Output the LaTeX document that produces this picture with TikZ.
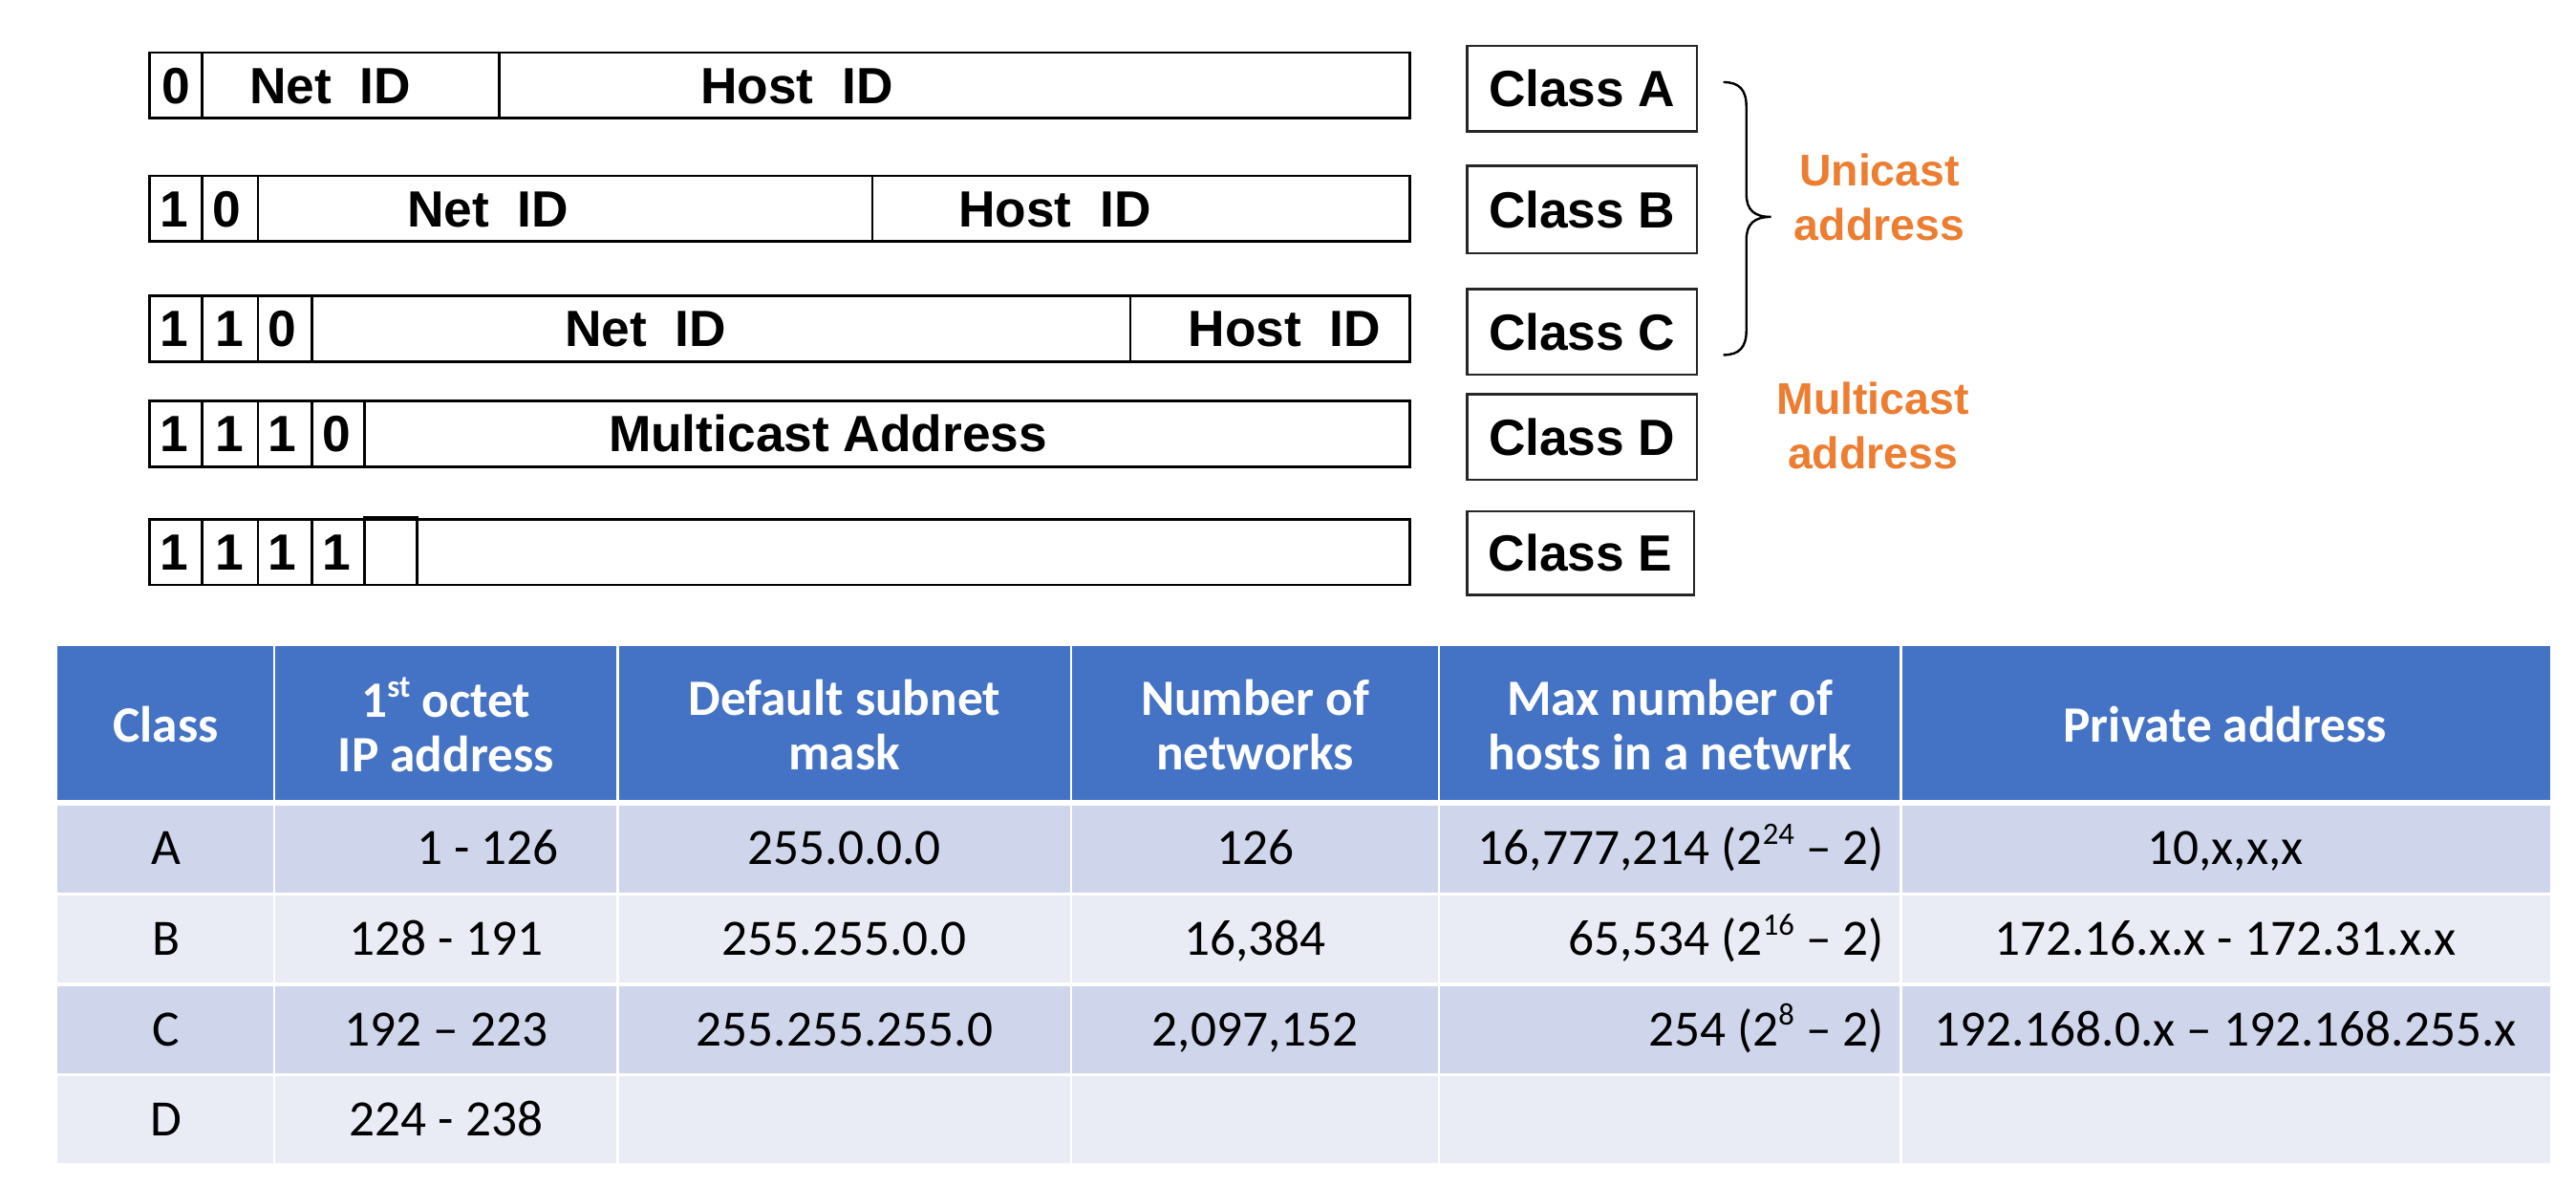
\documentclass[tikz,border=0pt]{standalone}
\usepackage{fontspec}
\newfontfamily\arial{Liberation Sans}
\newfontfamily\calibri{Carlito}
\definecolor{hdrblue}{HTML}{4472C4}
\definecolor{rowdark}{HTML}{CFD5EA}
\definecolor{rowlight}{HTML}{E9EBF5}
\definecolor{orng}{HTML}{ED7D31}
\newcommand\sups[1]{\raisebox{0.4em}{\fontsize{19}{19}\selectfont #1}}
\begin{document}
\begin{tikzpicture}[x=1pt,y=-1pt,
  barline/.style={draw=black, line width=1.6pt},
  barbox/.style={draw=black, line width=1.6pt, inner sep=0pt, minimum width=767pt, minimum height=40pt},
  clsbox/.style={draw=black!85, line width=1.4pt, inner sep=0pt, minimum width=140pt, minimum height=52pt,
                 font=\arial\bfseries\fontsize{31}{37}\selectfont},
  bartxt/.style={font=\arial\bfseries\fontsize{31}{37}\selectfont, inner sep=0pt, text height=22pt, text depth=0pt},
  orangetxt/.style={font=\arial\bfseries\fontsize{27}{33}\selectfont, text=orng, align=center, inner sep=0pt},
  hdrtxt/.style={font=\calibri\bfseries\fontsize{31}{33}\selectfont, text=white, align=center, inner sep=0pt},
  celltxt/.style={font=\calibri\fontsize{31}{33}\selectfont, text=black, inner sep=0pt, text height=19.6pt, text depth=0pt},
  brace/.style={draw=black, line width=1.4pt}
]
\fill[white] (0,0) rectangle (1568,722.35);
\useasboundingbox (0,0) rectangle (1568,722.35);

% ---------- Class A ----------
\node[barbox] (barA) at (474.5,52) {};
\draw[barline] (123,32) -- (123,72);
\draw[barline] (304,32) -- (304,72);
\node[bartxt] (a0) at (107,52) {0};
\node[bartxt] (anet) at (201,52) {Net~~ID};
\node[bartxt] (ahost) at (485,52) {Host~~ID};
\node[clsbox] (clsA) at (963,54) {Class A};

% ---------- Class B ----------
\node[barbox] (barB) at (474.5,127) {};
\draw[barline] (123,107) -- (123,147);
\draw[barline] (157,107) -- (157,147);
\draw[barline] (531,107) -- (531,147);
\node[bartxt] (b1) at (106,127) {1};
\node[bartxt] (b2) at (138,127) {0};
\node[bartxt] (bnet) at (297,127) {Net~~ID};
\node[bartxt] (bhost) at (642,127) {Host~~ID};
\node[clsbox, minimum height=53pt] (clsB) at (963,127.5) {Class B};

% ---------- Class C ----------
\node[barbox] (barC) at (474.5,200) {};
\draw[barline] (123,180) -- (123,220);
\draw[barline] (157,180) -- (157,220);
\draw[barline] (190,180) -- (190,220);
\draw[barline] (688,180) -- (688,220);
\node[bartxt] (c1) at (106,200) {1};
\node[bartxt] (c2) at (140,200) {1};
\node[bartxt] (c3) at (172,200) {0};
\node[bartxt] (cnet) at (393,200) {Net~~ID};
\node[bartxt] (chost) at (782,200) {Host~~ID};
\node[clsbox] (clsC) at (963,202) {Class C};

% ---------- Class D ----------
\node[barbox] (barD) at (474.5,264) {};
\draw[barline] (123,244) -- (123,284);
\draw[barline] (157,244) -- (157,284);
\draw[barline] (190,244) -- (190,284);
\draw[barline] (222,244) -- (222,284);
\node[bartxt] (d1) at (106,264) {1};
\node[bartxt] (d2) at (140,264) {1};
\node[bartxt] (d3) at (172,264) {1};
\node[bartxt] (d4) at (205,264) {0};
\node[bartxt] (dmc) at (504,264) {Multicast Address};
\node[clsbox] (clsD) at (963,266) {Class D};

% ---------- Class E ----------
\node[barbox] (barE) at (474.5,336) {};
\draw[barline] (123,316) -- (123,356);
\draw[barline] (157,316) -- (157,356);
\draw[barline] (190,316) -- (190,356);
\node[draw=black, line width=1.6pt, inner sep=0pt, minimum width=32pt, minimum height=41pt] (e5) at (238,335.5) {};
\node[bartxt] (e1) at (106,336) {1};
\node[bartxt] (e2) at (140,336) {1};
\node[bartxt] (e3) at (172,336) {1};
\node[bartxt] (e4) at (205,336) {1};
\node[clsbox, minimum width=138pt, minimum height=51pt] (clsE) at (962,336.5) {Class E};

% ---------- brace and labels ----------
\draw[brace] (1049,50) .. controls (1059,50) and (1063,55) .. (1063,65)
  -- (1063,118) .. controls (1063,128) and (1068,132) .. (1078,132)
  .. controls (1068,132) and (1063,136) .. (1063,146)
  -- (1063,201) .. controls (1063,211) and (1059,216) .. (1049,216);
\node[orangetxt] (uni) at (1144,120) {Unicast\\address};
\node[orangetxt] (multi) at (1140,259) {Multicast\\address};

% ---------- table ----------
\fill[hdrblue] (35,393) rectangle (1552,487);
\fill[rowdark]  (35,490) rectangle (1552,543);
\fill[rowlight] (35,545) rectangle (1552,598);
\fill[rowdark]  (35,600) rectangle (1552,653);
\fill[rowlight] (35,655) rectangle (1552,708);
\foreach \x in {167,376,652,876,1157} \draw[white, line width=1.5pt] (\x,393) -- (\x,708);

\node[hdrtxt] (hClass) at (101,441) {Class};
\node[hdrtxt] (hOct) at (271.5,441) {1\sups{st} octet\\IP address};
\node[hdrtxt] (hMask) at (514,441) {Default subnet\\mask};
\node[hdrtxt] (hNets) at (764,441) {Number of\\networks};
\node[hdrtxt] (hHosts) at (1016.5,441) {Max number of\\hosts in a netwrk};
\node[hdrtxt] (hPriv) at (1354.5,441) {Private address};

% row A
\node[celltxt] (rA1) at (101,516.5) {A};
\node[celltxt] (rA2) at (297,516.5) {1 - 126};
\node[celltxt] (rA3) at (514,516.5) {255.0.0.0};
\node[celltxt] (rA4) at (764,516.5) {126};
\node[celltxt, anchor=east] (rA5) at (1147,516.5) {16,777,214 (2\sups{24} – 2)};
\node[celltxt] (rA6) at (1354.5,516.5) {10,x,x,x};
% row B
\node[celltxt] (rB1) at (101,571.5) {B};
\node[celltxt] (rB2) at (271.5,571.5) {128 - 191};
\node[celltxt] (rB3) at (514,571.5) {255.255.0.0};
\node[celltxt] (rB4) at (764,571.5) {16,384};
\node[celltxt, anchor=east] (rB5) at (1147,571.5) {65,534 (2\sups{16} – 2)};
\node[celltxt] (rB6) at (1354.5,571.5) {172.16.x.x - 172.31.x.x};
% row C
\node[celltxt] (rC1) at (101,626.5) {C};
\node[celltxt] (rC2) at (271.5,626.5) {192 – 223};
\node[celltxt] (rC3) at (514,626.5) {255.255.255.0};
\node[celltxt] (rC4) at (764,626.5) {2,097,152};
\node[celltxt, anchor=east] (rC5) at (1147,626.5) {254 (2\sups{8} – 2)};
\node[celltxt] (rC6) at (1354.5,626.5) {192.168.0.x – 192.168.255.x};
% row D
\node[celltxt] (rD1) at (101,681.5) {D};
\node[celltxt] (rD2) at (271.5,681.5) {224 - 238};
\end{tikzpicture}
\end{document}
